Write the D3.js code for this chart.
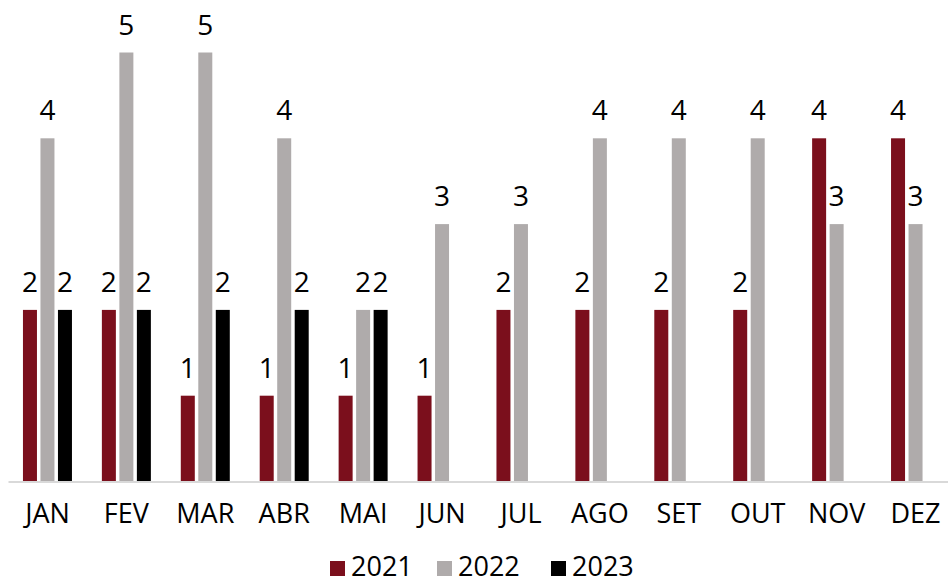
<!DOCTYPE html>
<html>
<head>
<meta charset="utf-8">
<script src="https://cdn.jsdelivr.net/npm/d3@7"></script>
<style>
  body { margin: 0; background: #fff; }
  svg { display: block; font-family: "Open Sans", sans-serif; }
</style>
</head>
<body>
<svg id="barChart" width="948" height="583"></svg>
<script>
const months = ["JAN", "FEV", "MAR", "ABR", "MAI", "JUN", "JUL", "AGO", "SET", "OUT", "NOV", "DEZ"];
const years = ["2021", "2022", "2023"];
const values2021 = [2, 2, 1, 1, 1, 1, 2, 2, 2, 2, 4, 4];
const values2022 = [4, 5, 5, 4, 2, 3, 3, 4, 4, 4, 3, 3];
const values2023 = [2, 2, 2, 2, 2, null, null, null, null, null, null, null];
const colors = ["#7b0f1c", "#afabab", "#000000"];

const series = [values2021, values2022, values2023];

const svg = d3.select("#barChart");
const baseline = 481.5;

const xScale = d3.scaleBand()
  .domain(months)
  .range([8, 955])
  .padding(0);

const inner = d3.scaleBand()
  .domain(years)
  .range([-24.5, 24.5])
  .paddingInner(0.2)
  .paddingOuter(0);

const yScale = d3.scaleLinear()
  .domain([0, 5])
  .range([baseline, 52.5]);

// flat list of bars
const bars = [];
months.forEach((m, i) => {
  years.forEach((y, j) => {
    const v = series[j][i];
    if (v != null) bars.push({ month: m, year: y, value: v, color: colors[j] });
  });
});

const g = svg.append("g");

g.selectAll("rect.bar")
  .data(bars)
  .enter()
  .append("rect")
  .attr("class", "bar")
  .attr("x", d => xScale(d.month) + xScale.bandwidth() / 2 + inner(d.year))
  .attr("y", d => yScale(d.value))
  .attr("width", inner.bandwidth())
  .attr("height", d => baseline - yScale(d.value))
  .attr("fill", d => d.color);

g.selectAll("text.val")
  .data(bars)
  .enter()
  .append("text")
  .attr("class", "val")
  .attr("x", d => xScale(d.month) + xScale.bandwidth() / 2 + inner(d.year) + inner.bandwidth() / 2)
  .attr("y", d => yScale(d.value) - 18)
  .attr("text-anchor", "middle")
  .attr("fill", "#000")
  .style("font-size", "28px")
  .text(d => d.value);

// x axis
const xAxis = d3.axisBottom(xScale).tickSize(0).tickPadding(22);
const xAxisG = svg.append("g")
  .attr("transform", `translate(0, ${baseline})`)
  .call(xAxis);
xAxisG.select(".domain")
  .attr("stroke", "#d9d9d9")
  .attr("stroke-width", 2);
xAxisG.selectAll(".tick text")
  .attr("fill", "#000")
  .style("font-family", "\"Open Sans\", sans-serif")
  .style("font-size", "27px");

// legend
const legendX = [330, 437, 551];
const legend = svg.append("g");
years.forEach((y, j) => {
  legend.append("rect")
    .attr("x", legendX[j])
    .attr("y", 561)
    .attr("width", 15)
    .attr("height", 15)
    .attr("fill", colors[j]);
  legend.append("text")
    .attr("x", legendX[j] + 21)
    .attr("y", 576)
    .attr("fill", "#000")
    .style("font-size", "27px")
    .text(y);
});
</script>
</body>
</html>
